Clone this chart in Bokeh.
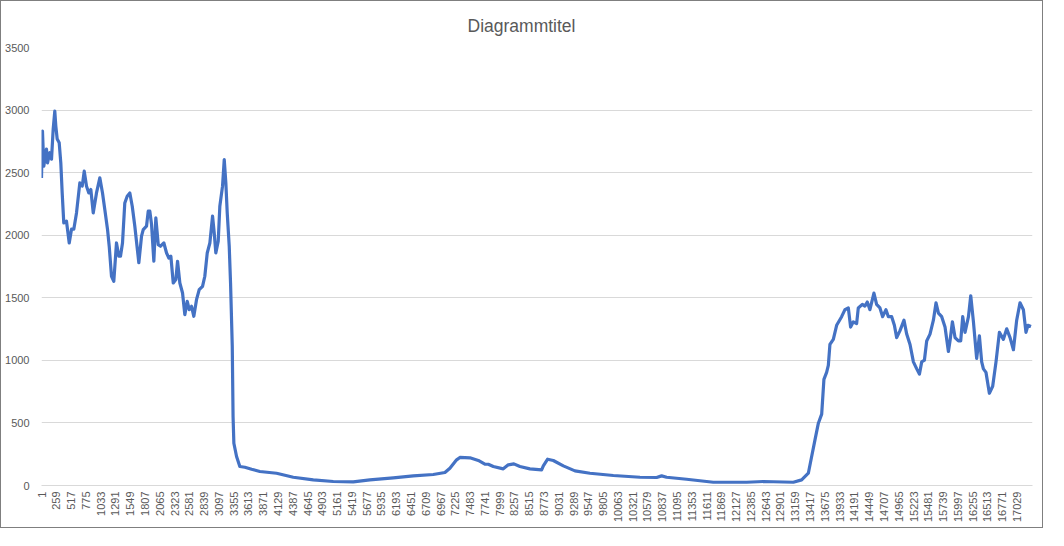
from bokeh.plotting import figure
from bokeh.models import FixedTicker, Range1d
from bokeh.embed import file_html
from bokeh.resources import INLINE

# ---- data ----
idx = [1, 18, 41, 88, 106, 146, 176, 205, 233, 251, 275, 310, 338, 362, 390,
       437, 485, 525, 565, 612, 670, 712, 747, 787, 827, 862, 904, 961, 1019,
       1066, 1106, 1153, 1183, 1223, 1263, 1310, 1351, 1380, 1415, 1455, 1497,
       1543, 1585, 1630, 1700, 1747, 1777, 1834, 1864, 1892, 1922, 1962, 1997,
       2039, 2079, 2137, 2184, 2224, 2259, 2301, 2346, 2376, 2416, 2463, 2503,
       2545, 2580, 2620, 2660, 2707, 2754, 2812, 2852, 2894, 2940, 2987, 3016,
       3044, 3086, 3114, 3161, 3191, 3219, 3243, 3278, 3301, 3331, 3345, 3359,
       3406, 3463, 3551, 3668, 3813, 4104, 4396, 4745, 5094, 5443, 5733, 6142,
       6491, 6840, 7043, 7130, 7247, 7305, 7480, 7626, 7741, 7800, 7888, 8062,
       8149, 8247, 8352, 8527, 8731, 8761, 8836, 8935, 9110, 9313, 9575, 9983,
       10447, 10739, 10826, 10913, 11262, 11728, 12310, 12601, 13125, 13270,
       13387, 13445, 13503, 13562, 13620, 13659, 13706, 13736, 13764, 13823,
       13881, 13968, 14026, 14085, 14125, 14172, 14230, 14259, 14329, 14374,
       14416, 14462, 14532, 14579, 14637, 14684, 14742, 14784, 14842, 14889,
       14929, 14987, 15057, 15104, 15162, 15221, 15279, 15326, 15366, 15413,
       15453, 15511, 15570, 15616, 15658, 15715, 15773, 15832, 15860, 15902,
       15948, 16007, 16047, 16082, 16122, 16182, 16222, 16269, 16325, 16373,
       16413, 16443, 16488, 16547, 16605, 16663, 16722, 16792, 16850, 16908,
       16967, 17024, 17082, 17141, 17186, 17221, 17274]

vals = [2458, 2832, 2552, 2688, 2578, 2659, 2608, 2848, 2992, 2872, 2768, 2738,
        2578, 2338, 2098, 2112, 1938, 2048, 2048, 2178, 2418, 2392, 2512, 2392,
        2338, 2365, 2178, 2338, 2458, 2338, 2206, 2048, 1912, 1672, 1632, 1938,
        1832, 1832, 1938, 2258, 2312, 2338, 2232, 2072, 1780, 1992, 2045, 2072,
        2192, 2192, 2085, 1792, 2138, 1925, 1912, 1938, 1858, 1818, 1832, 1618,
        1645, 1792, 1618, 1538, 1365, 1472, 1405, 1432, 1352, 1485, 1565, 1592,
        1672, 1858, 1938, 2152, 2018, 1858, 1952, 2232, 2392, 2605, 2418, 2178,
        1912, 1618, 1112, 552, 338, 232, 152, 146, 130, 112, 98, 66, 45, 32, 29,
        45, 61, 77, 88, 104, 138, 205, 224, 221, 200, 170, 170, 152, 133, 165,
        173, 152, 133, 125, 157, 210, 200, 157, 117, 98, 80, 66, 64, 77, 66, 50,
        26, 26, 32, 26, 45, 98, 232, 365, 498, 570, 848, 904, 960, 1127, 1168,
        1280, 1349, 1405, 1419, 1266, 1308, 1294, 1419, 1447, 1433, 1466, 1405,
        1538, 1447, 1419, 1349, 1405, 1349, 1349, 1280, 1182, 1238, 1321, 1210,
        1127, 988, 932, 890, 988, 1001, 1155, 1210, 1321, 1460, 1377, 1349, 1266,
        1071, 1155, 1308, 1182, 1155, 1155, 1349, 1224, 1349, 1516, 1308, 1015,
        1196, 988, 932, 904, 737, 793, 988, 1224, 1168, 1252, 1182, 1085, 1321,
        1460, 1405, 1224, 1280, 1271]

n_categories = 17300
x_ticks = list(range(1, 17030, 258))
y_ticks = [0, 500, 1000, 1500, 2000, 2500, 3000, 3500]
title_text = "Diagrammtitel"

FONT = "Liberation Sans"
GREY = "#595959"

p = figure(width=1043, height=528, output_backend="svg", toolbar_location=None,
           x_range=Range1d(1, n_categories), y_range=Range1d(0, 3500),
           min_border_left=40, min_border_right=12, min_border_top=46,
           min_border_bottom=44, title=title_text)
p.styles = {"border": "1px solid #7F7F7F"}

p.title.align = "left"
p.title.offset = 426
p.title.vertical_align = "top"
p.title.text_font = FONT
p.title.text_font_size = "17.5px"
p.title.text_font_style = "normal"
p.title.text_color = GREY
p.title.standoff = 20

p.outline_line_color = None
p.background_fill_color = "white"
p.border_fill_color = "white"

p.line(idx, vals, line_color="#4472C4", line_width=3.2, line_join="round")

p.xgrid.grid_line_color = None
p.ygrid.grid_line_color = "#D9D9D9"
p.ygrid.grid_line_width = 1

p.xaxis.ticker = FixedTicker(ticks=x_ticks)
p.xaxis.major_label_orientation = 3.14159265 / 2
p.xaxis.axis_line_color = "#D9D9D9"
p.xaxis.major_tick_line_color = None
p.xaxis.minor_tick_line_color = None
p.xaxis.major_tick_out = 0
p.xaxis.major_tick_in = 0
p.xaxis.major_label_standoff = 6
p.xaxis.major_label_text_font = FONT
p.xaxis.major_label_text_font_size = "11px"
p.xaxis.major_label_text_color = GREY

p.yaxis.ticker = FixedTicker(ticks=y_ticks)
p.yaxis.axis_line_color = None
p.yaxis.major_tick_line_color = None
p.yaxis.minor_tick_line_color = None
p.yaxis.major_tick_out = 0
p.yaxis.major_tick_in = 0
p.yaxis.major_label_standoff = 12
p.yaxis.major_label_text_font = FONT
p.yaxis.major_label_text_font_size = "11px"
p.yaxis.major_label_text_color = GREY

open("out.html", "w").write(file_html(p, INLINE))
